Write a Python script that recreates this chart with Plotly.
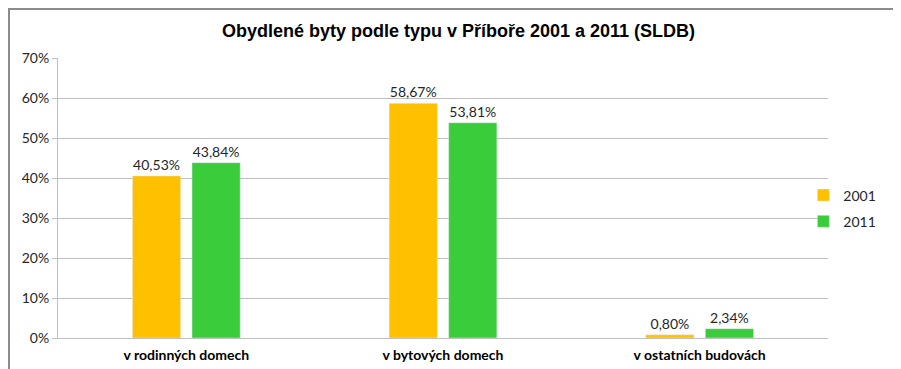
import plotly.graph_objects as go

categories = ["v rodinných domech", "v bytových domech", "v ostatních budovách"]
values_2001 = [40.53, 58.67, 0.80]
values_2011 = [43.84, 53.81, 2.34]
series_names = ["2001", "2011"]
colors = ["#FFC000", "#3BCC3B"]

FONT = "Lato, Open Sans, sans-serif"

fig = go.Figure()
for name, vals, col in zip(series_names, [values_2001, values_2011], colors):
    fig.add_trace(go.Bar(
        x=categories, y=vals, name=name, marker_color=col, legendgroup=name,
        texttemplate="%{y:.2f}%", textposition="outside",
        textfont=dict(family=FONT, size=14, color="#262626"),
        cliponaxis=False,
    ))

# page is offset by the 8px body margin, so layout coords = page - 8
fig.update_layout(
    width=901, height=369,
    separators=", ",
    margin=dict(l=50, r=81, t=50, b=39),
    paper_bgcolor="white", plot_bgcolor="white",
    barmode="group", bargap=0.536, bargroupgap=0.19,
    title=dict(text="<b>Obydlené byty podle typu v Příboře 2001 a 2011 (SLDB)</b>",
               x=0.5, xanchor="center", y=1 - 23 / 369, yanchor="middle",
               font=dict(family="Liberation Sans, Arial, sans-serif", size=18, color="black")),
    legend=dict(x=0.968, xanchor="left", y=0.4625, yanchor="middle",
                bgcolor="rgba(0,0,0,0)",
                font=dict(family=FONT, size=14, color="#262626"),
                itemwidth=30, tracegroupgap=5),
    showlegend=True,
)
fig.update_yaxes(range=[0, 70], dtick=10, ticksuffix="%", showgrid=True, gridcolor="#BFBFBF",
                 showline=True, linecolor="#BFBFBF", ticks="outside", ticklen=5, tickcolor="#BFBFBF",
                 zeroline=False,
                 tickfont=dict(family=FONT, size=14, color="#262626"))
fig.update_xaxes(showline=True, linecolor="#BFBFBF", ticks="", ticklabelstandoff=4,
                 tickfont=dict(family=FONT, size=14, color="black"),
                 tickprefix="<b>", ticksuffix="</b>")
fig.add_shape(type="rect", xref="paper", yref="paper",
              x0=(1 - 50) / 770, y0=-0.3, x1=1.3, y1=(330 - 1) / 280,
              line=dict(color="#8C8C8C", width=2), layer="above")
fig.write_html("out.html")
